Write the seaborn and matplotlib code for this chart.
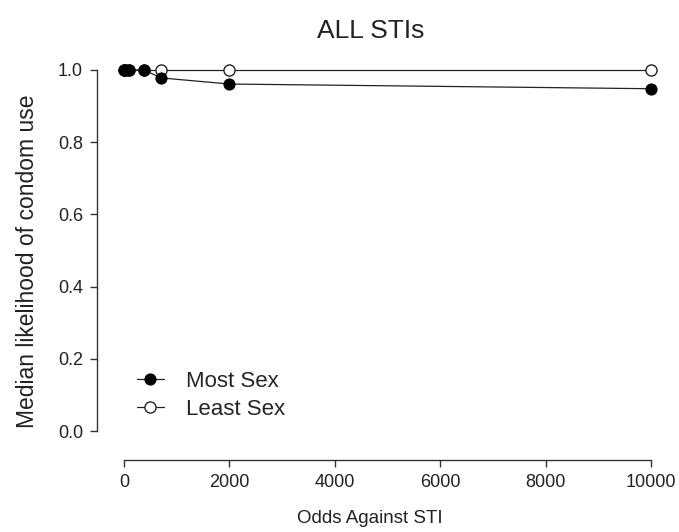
import matplotlib
matplotlib.use("Agg")
import matplotlib.pyplot as plt
import seaborn as sns
import pandas as pd

odds = [1, 10, 100, 380, 700, 2000, 10000]
most_sex = [1.0, 1.0, 1.0, 1.0, 0.978, 0.961, 0.948]
least_sex = [1.0, 1.0, 1.0, 1.0, 1.0, 1.0, 1.0]

sns.set_theme(style="ticks")
plt.rcParams["font.family"] = ["Liberation Sans", "DejaVu Sans"]

df = pd.DataFrame({
    "odds": odds * 2,
    "value": most_sex + least_sex,
    "group": ["Most Sex"] * len(odds) + ["Least Sex"] * len(odds),
})

W, H = 679, 532
fig = plt.figure(figsize=(W / 100, H / 100), dpi=100)
ax = fig.add_axes([97 / W, 1 - 460 / H, (660 - 97) / W, (460 - 62) / H])

least = df[df.group == "Least Sex"]
most = df[df.group == "Most Sex"]
sns.lineplot(data=least, x="odds", y="value", ax=ax, color="#222222", lw=0.9,
             marker="o", markersize=8, markerfacecolor="white",
             markeredgecolor="#222222", markeredgewidth=1.0, label="Least Sex")
sns.lineplot(data=most, x="odds", y="value", ax=ax, color="#222222", lw=0.9,
             marker="o", markersize=8, markerfacecolor="black",
             markeredgecolor="black", label="Most Sex")

ax.set_xlim(-512, 10171)
ax.set_ylim(-0.080, 1.022)
ax.set_xticks([0, 2000, 4000, 6000, 8000, 10000])
ax.set_yticks([0.0, 0.2, 0.4, 0.6, 0.8, 1.0])
ax.set_yticklabels([f"{v:.1f}" for v in [0.0, 0.2, 0.4, 0.6, 0.8, 1.0]])
ax.spines["left"].set_bounds(0.0, 1.0)
ax.spines["bottom"].set_bounds(0, 10000)
for s in ["top", "right"]:
    ax.spines[s].set_visible(False)
for s in ["left", "bottom"]:
    ax.spines[s].set_color("#333333")
    ax.spines[s].set_linewidth(1.0)
ax.tick_params(axis="both", direction="out", length=5, width=1.0,
               color="#333333", labelsize=13, labelcolor="#222222", pad=5)

ax.set_xlabel("Odds Against STI", fontsize=13.5, color="#222222", labelpad=14)
ax.xaxis.label.set_x((370 - 97) / (660 - 97))
ax.set_ylabel("Median likelihood of condom use", fontsize=16.5,
              color="#222222", labelpad=14)
fig.text(371 / W, 1 - 31 / H, "ALL STIs", fontsize=19, color="#222222",
         ha="center", va="center")

handles, labels = ax.get_legend_handles_labels()
order = [labels.index("Most Sex"), labels.index("Least Sex")]
ax.legend([handles[i] for i in order], [labels[i] for i in order],
          loc="upper left", bbox_to_anchor=(137 / W, 1 - 371 / H),
          bbox_transform=fig.transFigure, frameon=False,
          fontsize=16, handlelength=1.2, handletextpad=1.0,
          labelspacing=0.3, borderpad=0, borderaxespad=0)

fig.savefig("out.png", dpi=100)
